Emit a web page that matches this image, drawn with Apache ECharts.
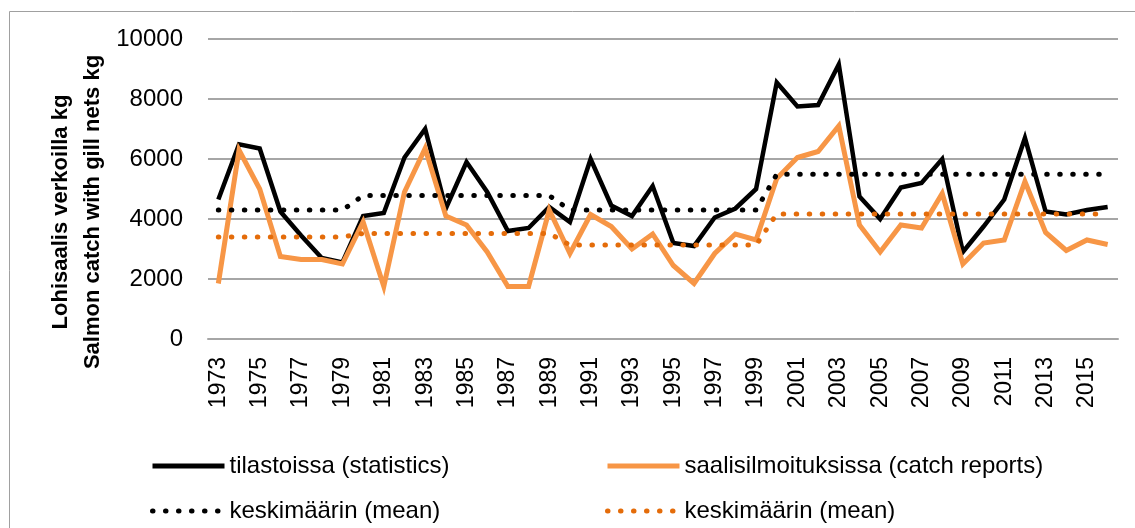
<!DOCTYPE html>
<html>
<head>
<meta charset="utf-8">
<script src="https://cdn.jsdelivr.net/npm/echarts@6/dist/echarts.min.js"></script>
<style>
  html, body { margin: 0; padding: 0; background: #fff; }
  #main { width: 1135px; height: 528px; }
</style>
</head>
<body>
<div id="main"></div>
<script>
var years = ['1973','1974','1975','1976','1977','1978','1979','1980','1981','1982',
  '1983','1984','1985','1986','1987','1988','1989','1990','1991','1992',
  '1993','1994','1995','1996','1997','1998','1999','2000','2001','2002',
  '2003','2004','2005','2006','2007','2008','2009','2010','2011','2012',
  '2013','2014','2015','2016'];

// tilastoissa (statistics)
var statistics = [4650, 6490, 6350, 4250, 3450, 2700, 2550, 4100, 4200, 6050,
  7000, 4350, 5900, 4900, 3600, 3700, 4400, 3900, 6000, 4450,
  4100, 5100, 3200, 3100, 4050, 4350, 5000, 8550, 7750, 7800,
  9150, 4750, 4000, 5050, 5200, 6000, 2900, 3750, 4650, 6700,
  4250, 4150, 4300, 4400];

// saalisilmoituksissa (catch reports)
var catchReports = [1850, 6300, 5000, 2750, 2650, 2650, 2500, 3900, 1750, 4900,
  6350, 4100, 3800, 2900, 1750, 1750, 4300, 2850, 4150, 3750,
  3000, 3500, 2450, 1850, 2850, 3500, 3300, 5350, 6050, 6250,
  7100, 3800, 2900, 3800, 3700, 4850, 2500, 3200, 3300, 5250,
  3550, 2950, 3300, 3150];

// keskimäärin (mean), per period
var statsMean = [4300, 4300, 4300, 4300, 4300, 4300, 4300, 4780, 4780, 4780,
  4780, 4780, 4780, 4780, 4780, 4780, 4780, 4300, 4300, 4300,
  4300, 4300, 4300, 4300, 4300, 4300, 4300, 5490, 5490, 5490,
  5490, 5490, 5490, 5490, 5490, 5490, 5490, 5490, 5490, 5490,
  5490, 5490, 5490, 5490];

var reportsMean = [3400, 3400, 3400, 3400, 3400, 3400, 3400, 3520, 3520, 3520,
  3520, 3520, 3520, 3520, 3520, 3520, 3520, 3130, 3130, 3130,
  3130, 3130, 3130, 3130, 3130, 3130, 3130, 4170, 4170, 4170,
  4170, 4170, 4170, 4170, 4170, 4170, 4170, 4170, 4170, 4170,
  4170, 4170, 4170, 4170];

var yTicks = { min: 0, max: 10000, interval: 2000 };

var names = {
  stats: 'tilastoissa (statistics)',
  reports: 'saalisilmoituksissa (catch reports)',
  statsMean: 'keskimäärin (mean) 1',
  reportsMean: 'keskimäärin (mean) 2'
};

var FONT = 'Liberation Sans';
var dots = [0.5, 12.5];

function legendAt(name, left, top) {
  return {
    data: [name],
    left: left,
    top: top,
    padding: 0,
    itemWidth: 72,
    itemHeight: 14,
    itemGap: 0,
    selectedMode: false,
    lineStyle: { width: 5 },
    itemStyle: { opacity: 0 },
    formatter: function (n) { return n.replace(/ \d$/, ''); },
    textStyle: { fontFamily: FONT, fontSize: 24, color: '#000', padding: 0 }
  };
}

var chart = echarts.init(document.getElementById('main'));
var option = {
  animation: false,
  backgroundColor: '#fff',
  graphic: [
    {
      type: 'rect',
      shape: { x: 9.5, y: 11.5, width: 1300, height: 700 },
      style: { fill: 'none', stroke: '#a0a0a0', lineWidth: 1 },
      silent: true, z: -1
    },
    {
      type: 'text',
      x: 77, y: 212,
      rotation: Math.PI / 2,
      style: {
        text: 'Lohisaalis verkoilla kg\nSalmon catch with gill nets kg',
        font: 'bold 22px "Liberation Sans"',
        fill: '#000',
        align: 'center',
        verticalAlign: 'middle',
        lineHeight: 32
      }
    }
  ],
  grid: { left: 208, right: 17, top: 39, bottom: 189, containLabel: false },
  legend: [
    legendAt(names.stats, 150, 454),
    legendAt(names.reports, 605, 454),
    legendAt(names.statsMean, 150, 499),
    legendAt(names.reportsMean, 605, 499)
  ],
  xAxis: {
    type: 'category',
    data: years,
    boundaryGap: true,
    axisLine: { lineStyle: { color: '#a6a6a6', width: 2 } },
    axisTick: { show: false },
    axisLabel: {
      interval: 1,
      rotate: 90,
      margin: 18,
      fontFamily: FONT,
      fontSize: 23,
      color: '#000'
    }
  },
  yAxis: {
    type: 'value',
    min: yTicks.min,
    max: yTicks.max,
    interval: yTicks.interval,
    axisLine: { show: false },
    axisTick: { show: false },
    splitLine: { lineStyle: { color: '#a6a6a6', width: 2 } },
    axisLabel: {
      margin: 25, fontFamily: FONT, fontSize: 24, color: '#000',
      formatter: function (v) { return String(v); }
    }
  },
  series: [
    {
      name: names.stats, type: 'line', data: statistics,
      symbol: 'none', showSymbol: false,
      lineStyle: { color: '#000', width: 4.5, join: 'miter' },
      itemStyle: { color: '#000' }, z: 2
    },
    {
      name: names.reports, type: 'line', data: catchReports,
      symbol: 'none', showSymbol: false,
      lineStyle: { color: '#F79646', width: 5, join: 'miter' },
      itemStyle: { color: '#F79646' }, z: 3
    },
    {
      name: names.statsMean, type: 'line', data: statsMean,
      symbol: 'none', showSymbol: false,
      lineStyle: { color: '#000', width: 5, type: dots, cap: 'round' },
      itemStyle: { color: '#000' }, z: 4
    },
    {
      name: names.reportsMean, type: 'line', data: reportsMean,
      symbol: 'none', showSymbol: false,
      lineStyle: { color: '#E46C0A', width: 5, type: dots, cap: 'round' },
      itemStyle: { color: '#E46C0A' }, z: 5
    }
  ]
};
chart.setOption(option);
</script>
</body>
</html>
